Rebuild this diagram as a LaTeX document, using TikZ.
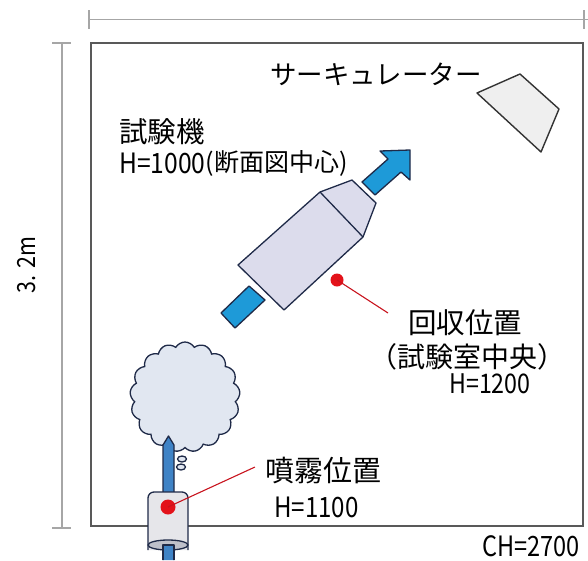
\documentclass[tikz,border=0pt]{standalone}
\usepackage{fontspec}
\usepackage{graphicx}
\usetikzlibrary{shapes.symbols}
\newfontfamily\jp{Noto Sans CJK JP}
% condensed Latin figures
\newcommand\cond[2][0.86]{\scalebox{#1}[1]{#2}}
\definecolor{navy}{HTML}{1F2A48}
\definecolor{bodyfill}{HTML}{DCDCEC}
\definecolor{arrowblue}{HTML}{1E9AD8}
\definecolor{pipeblue}{HTML}{3F83C6}
\definecolor{cloudfill}{HTML}{E1E7F1}
\definecolor{nozzlefill}{HTML}{E6E6EA}
\definecolor{markred}{HTML}{E3121A}
\definecolor{leadred}{HTML}{C8141E}
\definecolor{circfill}{HTML}{EFEFEF}
\begin{document}
\begin{tikzpicture}[x=1pt,y=-1pt,
  dimline/.style={draw=black!35, line width=1.4pt},
  wall/.style={draw=black!65, line width=1.6pt},
  outl/.style={draw=navy, line width=1.3pt, line join=round},
  lead/.style={draw=leadred, line width=1.1pt},
  dot/.style={circle, fill=markred, inner sep=0pt, minimum size=#1},
  lbl/.style={inner sep=0pt, anchor=west, font=\jp},
]
\useasboundingbox (0,0) rectangle (588,560);

% room outline
\draw[wall] (91,43) rectangle (583,526);

% overall dimensions
\coordinate (tl) at (89,19.5);
\coordinate (tr) at (588,19.5);
\draw[dimline] (tl) -- (tr);
\draw[dimline] (89,10) -- (89,29);
\draw[dimline] (584,10) -- (584,29);
\coordinate (vt) at (62,43);
\coordinate (vb) at (62,528);
\draw[dimline] (vt) -- (vb);
\draw[dimline] (52,43) -- (71,43);
\draw[dimline] (52,528) -- (71,528);
\node[inner sep=0pt, rotate=90, font=\jp\fontsize{25}{25}\selectfont] (height) at (27,265) {\cond{3. 2m}};

% circulator
\draw[draw=black!80, line width=1.4pt, fill=circfill, line join=round]
  (477,93) -- (520,74) -- (559,109) -- (541,152) -- cycle;
\node[lbl, font=\jp\fontsize{26.5}{26.5}\selectfont] (circ) at (270,74) {サーキュレーター};

% test piece with its air-flow arrows
\draw[outl, fill=arrowblue] (221,313) -- (249,286) -- (265,300) -- (235,328) -- cycle;
\draw[outl, fill=bodyfill] (238,265) -- (320,192) -- (352,180) -- (376,203) -- (363,237) -- (284,310) -- cycle;
\draw[outl] (320,192) -- (363,237);
\draw[outl, fill=arrowblue] (362,182) -- (388,159) -- (380,151) -- (410,150) -- (410,180) -- (401,172) -- (375,195) -- cycle;

\node[lbl, font=\jp\fontsize{28.5}{28.5}\selectfont] (tname) at (119,132) {試験機};
\node[lbl, font=\jp\fontsize{28}{28}\selectfont] (th) at (119,163) {\cond[0.88]{H=1000}};
\node[lbl, font=\jp\fontsize{25}{25}\selectfont] (tsec) at (th.east) {(断面図中心)};

% recovery point
\node[dot=13pt] (rec) at (337,280) {};
\coordinate (recend) at (388,313);
\draw[lead] (rec.center) -- (recend);
\node[lbl, font=\jp\fontsize{28.5}{28.5}\selectfont] (rname) at (408,323) {回収位置};
\node[lbl, font=\jp\fontsize{28}{28}\selectfont] (rsub) at (369,357) {（試験室中央）};
\node[lbl, font=\jp\fontsize{27}{27}\selectfont] (rh) at (449,384) {\cond[0.86]{H=1200}};

% spray cloud, feed pipe and nozzle
\node[cloud, cloud puffs=17, cloud puff arc=120, aspect=1, minimum width=110pt, minimum height=110pt,
      draw=navy, line width=1.3pt, fill=cloudfill] (cloud) at (185,397) {};
\draw[outl, fill=cloudfill] (181,467) ellipse (4.5pt and 3pt);
\draw[outl, fill=cloudfill] (182,459) ellipse (4.5pt and 3pt);
\draw[outl, fill=pipeblue] (163,560) -- (163,445) -- (168.5,436) -- (174,445) -- (174,560);
\draw[outl, fill=nozzlefill, rounded corners=6pt] (148,550) -- (148,492) -- (188,492) -- (188,550);
\draw[outl, fill=nozzlefill!80!navy] (168,545) ellipse (20pt and 5pt);
\draw[outl, fill=pipeblue] (163,560) -- (163,545) -- (174,545) -- (174,560);
\node[dot=15pt] (spray) at (168,507) {};
\coordinate (sprayend) at (255,467);
\draw[lead] (spray.center) -- (sprayend);
\node[lbl, font=\jp\fontsize{29}{29}\selectfont] (sname) at (265,471) {噴霧位置};
\node[lbl, font=\jp\fontsize{28}{28}\selectfont] (sh) at (274,507) {\cond[0.86]{H=1100}};

% ceiling height
\node[lbl, font=\jp\fontsize{28}{28}\selectfont] (ch) at (482,546) {\cond[0.84]{CH=2700}};
\end{tikzpicture}
\end{document}
